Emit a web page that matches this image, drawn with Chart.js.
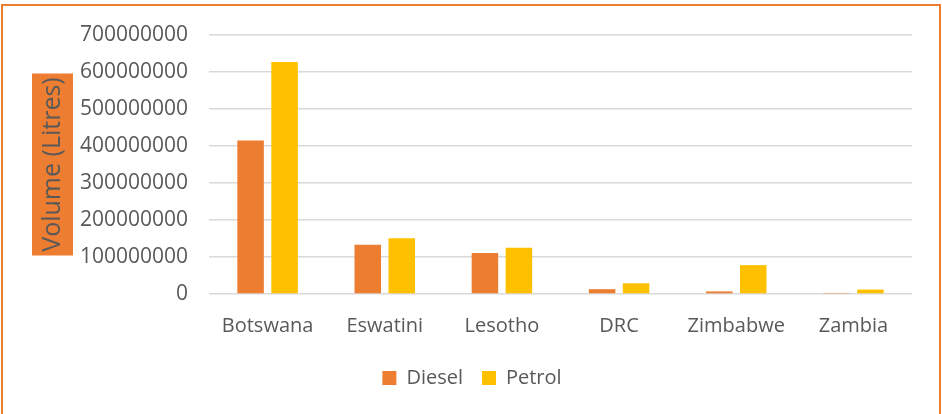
<!DOCTYPE html>
<html>
<head>
<meta charset="utf-8">
<script src="https://cdn.jsdelivr.net/npm/chart.js@4"></script>
<style>
  html, body { margin: 0; padding: 0; background: #fff; }
  #wrap { position: relative; width: 942px; height: 414px; overflow: hidden; }
  #frame { position: absolute; left: 1px; top: 4px; width: 936px; height: 420px;
           border: 2px solid #ED7D31; pointer-events: none; }
  canvas { position: absolute; left: 0; top: 0; }
</style>
</head>
<body>
<div id="wrap">
  <canvas id="myChart" width="942" height="414"></canvas>
  <div id="frame"></div>
</div>
<script>
// 데이터
const countries = ['Botswana', 'Eswatini', 'Lesotho', 'DRC', 'Zimbabwe', 'Zambia'];
const diesel = [415000000, 133000000, 111000000, 13000000, 7000000, 3000000];
const petrol = [627000000, 151000000, 125000000, 29000000, 78000000, 12000000];
const yTicks = [0, 100000000, 200000000, 300000000, 400000000, 500000000, 600000000, 700000000];

const gray = '#595959';

// y축 제목 뒤 주황색 박스
const titleBox = {
    id: 'titleBox',
    beforeDraw(chart) {
        const y = chart.scales.y;
        const ctx = chart.ctx;
        const cy = (y.top + y.bottom) / 2;
        ctx.save();
        ctx.fillStyle = '#ED7D31';
        ctx.fillRect(32, cy - 91, 41, 182);
        ctx.restore();
    }
};

const chartArea = document.getElementById('myChart').getContext('2d');
new Chart(chartArea, {
    type: 'bar',
    data: {
        labels: countries,
        datasets: [{
            label: 'Diesel',
            data: diesel,
            backgroundColor: '#ED7D31',
            categoryPercentage: 0.58,
            barPercentage: 0.78
        }, {
            label: 'Petrol',
            data: petrol,
            backgroundColor: '#FFC000',
            categoryPercentage: 0.58,
            barPercentage: 0.78
        }]
    },
    options: {
        responsive: false,
        animation: false,
        layout: {
            padding: { left: 32, right: 30, top: 35, bottom: 16 }
        },
        plugins: {
            legend: {
                position: 'bottom',
                labels: {
                    boxWidth: 14,
                    boxHeight: 14,
                    padding: 19,
                    color: gray,
                    font: { family: 'Open Sans', size: 20 }
                }
            },
            tooltip: { enabled: false }
        },
        scales: {
            x: {
                afterFit(scale) { scale.height -= 1; },
                grid: { display: false },
                border: { display: false },
                ticks: {
                    color: gray,
                    padding: 12,
                    font: { family: 'Open Sans', size: 20 }
                }
            },
            y: {
                min: 0,
                max: 700000000,
                afterFit(scale) { scale.width = 177; },
                afterBuildTicks(scale) {
                    scale.ticks = yTicks.map(v => ({ value: v }));
                },
                grid: {
                    color: '#D9D9D9',
                    lineWidth: 1.5,
                    drawTicks: false
                },
                border: { display: false },
                ticks: {
                    color: gray,
                    padding: 21,
                    font: { family: 'Open Sans', size: 21 },
                    callback: (v) => String(v)
                },
                title: {
                    display: true,
                    text: 'Volume (Litres)',
                    color: gray,
                    padding: { top: 6, bottom: 0 },
                    font: { family: 'Open Sans', size: 25 }
                }
            }
        }
    },
    plugins: [titleBox]
});
</script>
</body>
</html>
